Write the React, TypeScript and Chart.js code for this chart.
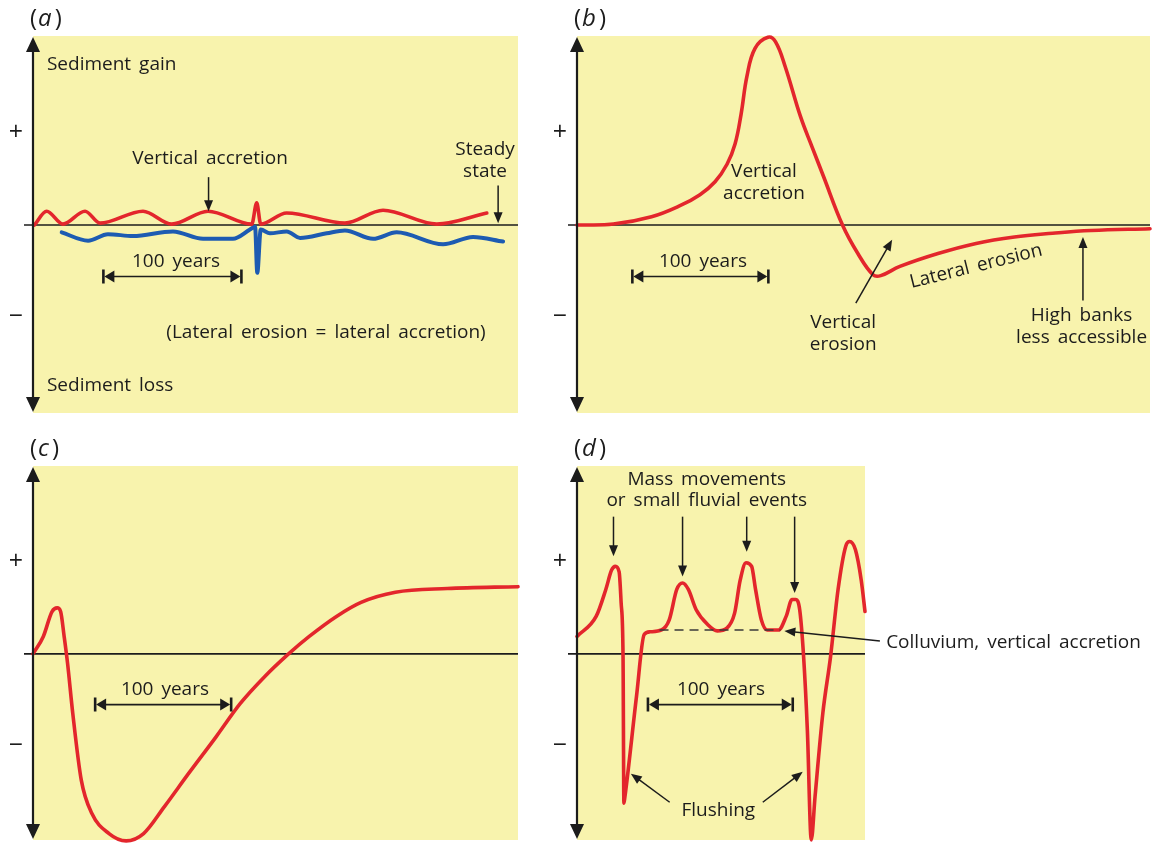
import React, { useEffect, useRef } from 'react';
import { Chart, registerables } from 'chart.js';

Chart.register(...registerables);

// ---------------- Data (x in years, y in relative sediment-budget units) ----------------
// Panel (a): steady state
const A_RED_YEARS = [1, 9.9, 21.7, 37.7, 48.6, 79.7, 100.5, 126.8, 158.5, 162.1, 165, 183.8, 226, 253.6, 292.5, 328.8];
const A_RED = [0.0, 0.15, 0.01, 0.15, 0.02, 0.15, 0.01, 0.15, 0.01, 0.24, 0.01, 0.13, 0.02, 0.16, 0.01, 0.13];
const A_BLUE_YEARS = [20.8, 39.9, 54.3, 72.5, 101.4, 123.2, 144.9, 157.2, 160.9, 162.5, 165, 171.7, 183.8, 193.5, 212.8, 226, 246.4, 263.5, 297.1, 318.8, 340.6];
const A_BLUE = [-0.08, -0.17, -0.1, -0.12, -0.07, -0.15, -0.15, -0.05, -0.02, -0.52, -0.05, -0.09, -0.07, -0.14, -0.09, -0.06, -0.15, -0.08, -0.21, -0.13, -0.18];

// Panel (b)
const B_YEARS = [0, 26.7, 54.8, 75.7, 90.4, 101.5, 110.3, 116.2, 120.6, 125, 130.9, 140.4, 146, 153.1, 164.3, 172.8, 181.2, 195.2, 206.5, 217.6, 223.3, 237.4, 265.4, 293.4, 321.6, 349.7, 377.8, 421.3];
const B_VALUES = [0, 0.01, 0.09, 0.21, 0.33, 0.47, 0.66, 0.88, 1.2, 1.62, 1.92, 2.04, 1.99, 1.72, 1.18, 0.85, 0.53, 0, -0.31, -0.54, -0.55, -0.45, -0.31, -0.2, -0.13, -0.09, -0.06, -0.04];

// Panel (c)
const C_YEARS = [0, 7.6, 14, 17.8, 20.3, 22.9, 25.4, 29.2, 35.5, 43.2, 55.9, 68.5, 81.3, 96.5, 114.3, 134.6, 152.3, 170.1, 187.9, 203.1, 223.4, 241.2, 266.5, 304.6, 356.6];
const C_VALUES = [0, 0.19, 0.46, 0.5, 0.46, 0.19, -0.1, -0.64, -1.37, -1.73, -1.95, -2.03, -1.95, -1.66, -1.3, -0.9, -0.54, -0.25, 0, 0.19, 0.41, 0.56, 0.67, 0.71, 0.73];

// Panel (d)
const D_YEARS = [0, 13.3, 19.9, 23.9, 26.5, 29.1, 30.5, 31.8, 32.4, 33.1, 41.1, 46.4, 50.4, 58.4, 63.7, 68.9, 72.9, 76.9, 82.3, 90.2, 96.8, 103.5, 108.8, 112.7, 116.7, 120.6, 123.3, 127.3, 131.3, 139.2, 144.5, 148.5, 151.2, 153.8, 156.5, 159.1, 161.8, 164.4, 169.8, 175.1, 180.3, 185.6, 188.3, 192.3, 196.3, 198.9];
const D_VALUES = [0.19, 0.41, 0.7, 0.91, 0.95, 0.89, 0.55, -0.03, -1.62, -1.55, -0.46, 0.21, 0.24, 0.26, 0.37, 0.7, 0.77, 0.7, 0.48, 0.32, 0.25, 0.28, 0.44, 0.8, 0.99, 0.95, 0.7, 0.37, 0.26, 0.26, 0.41, 0.59, 0.59, 0.48, -0.03, -0.83, -2.02, -1.55, -0.64, -0.03, 0.7, 1.17, 1.22, 1.13, 0.8, 0.46];
const D_COLLUVIUM_LEVEL = 0.26;

const AXIS_PLUS = '+';
const AXIS_MINUS = '\u2212';

// ---------------- Styles ----------------
const FONT = '"Open Sans", "Noto Sans", sans-serif';
const TEXT_SIZE = 19;
const INK = '#1c1c1c';
const RED = '#e3262c';
const BLUE = '#1d5bb2';
const YELLOW = '#f8f3ad';
const PAGE_W = 1158;
const PAGE_H = 844;

type Ann =
  | { kind: 'text'; x: number; y: number; text: string; align?: CanvasTextAlign; rotate?: number }
  | { kind: 'arrow'; x1: number; y1: number; x2: number; y2: number }
  | { kind: 'span'; x1: number; x2: number; y: number }
  | { kind: 'dash'; x1: number; x2: number; y: number };

interface Series { years: number[]; values: number[]; color: string; width: number; smooth?: 'monotone' | 'bezier' }
interface PanelCfg {
  letter: string;
  area: { left: number; top: number; right: number; bottom: number };
  xMax: number;
  yMin: number;
  yMax: number;
  series: Series[];
  anns: Ann[];
}

const PANELS: PanelCfg[] = [
  {
    letter: 'a',
    area: { left: 33, top: 36, right: 518, bottom: 413 },
    xMax: 351.4, yMin: -2.043, yMax: 2.054,
    series: [
      { years: A_RED_YEARS, values: A_RED, color: RED, width: 3.6 },
      { years: A_BLUE_YEARS, values: A_BLUE, color: BLUE, width: 4 },
    ],
    anns: [
      { kind: 'text', x: 10.1, y: 1.74, text: 'Sediment gain', align: 'left' },
      { kind: 'text', x: 10.1, y: -1.74, text: 'Sediment loss', align: 'left' },
      { kind: 'text', x: 128.3, y: 0.72, text: 'Vertical accretion' },
      { kind: 'arrow', x1: 127.2, y1: 0.52, x2: 127.2, y2: 0.15 },
      { kind: 'text', x: 327.5, y: 0.82, text: 'Steady' },
      { kind: 'text', x: 327.5, y: 0.58, text: 'state' },
      { kind: 'arrow', x1: 337, y1: 0.43, x2: 337, y2: 0.02 },
      { kind: 'text', x: 103.6, y: -0.4, text: '100 years' },
      { kind: 'span', x1: 51, x2: 151, y: -0.56 },
      { kind: 'text', x: 212.3, y: -1.17, text: '(Lateral erosion = lateral accretion)' },
    ],
  },
  {
    letter: 'b',
    area: { left: 577, top: 36, right: 1150, bottom: 413 },
    xMax: 421.3, yMin: -2.043, yMax: 2.054,
    series: [{ years: B_YEARS, values: B_VALUES, color: RED, width: 3.6, smooth: 'bezier' }],
    anns: [
      { kind: 'text', x: 137.5, y: 0.58, text: 'Vertical' },
      { kind: 'text', x: 137.5, y: 0.34, text: 'accretion' },
      { kind: 'text', x: 92.6, y: -0.4, text: '100 years' },
      { kind: 'span', x1: 40.7, x2: 140.7, y: -0.56 },
      { kind: 'text', x: 195.7, y: -1.06, text: 'Vertical' },
      { kind: 'text', x: 195.7, y: -1.3, text: 'erosion' },
      { kind: 'arrow', x1: 205, y1: -0.85, x2: 231.7, y2: -0.16 },
      { kind: 'text', x: 293.4, y: -0.45, text: 'Lateral erosion', rotate: -14 },
      { kind: 'text', x: 371, y: -0.98, text: 'High banks' },
      { kind: 'text', x: 371, y: -1.22, text: 'less accessible' },
      { kind: 'arrow', x1: 372, y1: -0.82, x2: 372, y2: -0.13 },
    ],
  },
  {
    letter: 'c',
    area: { left: 33, top: 466, right: 518, bottom: 840 },
    xMax: 356.6, yMin: -2.02, yMax: 2.04,
    series: [{ years: C_YEARS, values: C_VALUES, color: RED, width: 3.6 }],
    anns: [
      { kind: 'text', x: 97, y: -0.39, text: '100 years' },
      { kind: 'span', x1: 45.7, x2: 145.7, y: -0.55 },
    ],
  },
  {
    letter: 'd',
    area: { left: 577, top: 466, right: 865, bottom: 840 },
    xMax: 198.9, yMin: -2.02, yMax: 2.04,
    series: [{ years: D_YEARS, values: D_VALUES, color: RED, width: 3.6 }],
    anns: [
      { kind: 'text', x: 89.6, y: 1.89, text: 'Mass movements' },
      { kind: 'text', x: 89.6, y: 1.66, text: 'or small fluvial events' },
      { kind: 'arrow', x1: 25.2, y1: 1.49, x2: 25.2, y2: 1.06 },
      { kind: 'arrow', x1: 72.9, y1: 1.49, x2: 72.9, y2: 0.84 },
      { kind: 'arrow', x1: 117.2, y1: 1.49, x2: 117.2, y2: 1.11 },
      { kind: 'arrow', x1: 150.3, y1: 1.49, x2: 150.3, y2: 0.66 },
      { kind: 'dash', x1: 57, x2: 140.5, y: D_COLLUVIUM_LEVEL },
      { kind: 'text', x: 213.5, y: 0.12, text: 'Colluvium, vertical accretion', align: 'left' },
      { kind: 'arrow', x1: 209.2, y1: 0.14, x2: 143.2, y2: 0.25 },
      { kind: 'text', x: 99.4, y: -0.39, text: '100 years' },
      { kind: 'span', x1: 49, x2: 149, y: -0.55 },
      { kind: 'text', x: 97.6, y: -1.7, text: 'Flushing' },
      { kind: 'arrow', x1: 64, y1: -1.61, x2: 37.2, y2: -1.3 },
      { kind: 'arrow', x1: 128.3, y1: -1.61, x2: 155.9, y2: -1.28 },
    ],
  },
];

function head(ctx: CanvasRenderingContext2D, tx: number, ty: number, dx: number, dy: number, len: number, hw: number) {
  const n = Math.hypot(dx, dy) || 1;
  const ux = dx / n, uy = dy / n;
  const bx = tx - ux * len, by = ty - uy * len;
  ctx.beginPath();
  ctx.moveTo(tx, ty);
  ctx.lineTo(bx - uy * hw, by + ux * hw);
  ctx.lineTo(bx + uy * hw, by - ux * hw);
  ctx.closePath();
  ctx.fill();
}

function makeDecor(cfg: PanelCfg) {
  return {
    id: 'decor_' + cfg.letter,
    beforeDraw(chart: any) {
      const { ctx, chartArea: ca, scales } = chart;
      ctx.save();
      ctx.fillStyle = YELLOW;
      ctx.fillRect(ca.left, ca.top, ca.right - ca.left, ca.bottom - ca.top);
      const y0 = scales.y.getPixelForValue(0);
      ctx.strokeStyle = INK;
      ctx.lineWidth = 1.6;
      ctx.beginPath();
      ctx.moveTo(ca.left - 9, y0);
      ctx.lineTo(ca.right, y0);
      ctx.stroke();
      ctx.restore();
    },
    afterDatasetsDraw(chart: any) {
      const { ctx, chartArea: ca, scales } = chart;
      const X = (v: number) => scales.x.getPixelForValue(v);
      const Y = (v: number) => scales.y.getPixelForValue(v);
      ctx.save();
      ctx.strokeStyle = INK;
      ctx.fillStyle = INK;
      // vertical axis with arrowheads
      const ax = ca.left;
      ctx.lineWidth = 2.2;
      ctx.beginPath();
      ctx.moveTo(ax, ca.top + 10);
      ctx.lineTo(ax, ca.bottom - 10);
      ctx.stroke();
      head(ctx, ax, ca.top + 1, 0, -1, 15, 7);
      head(ctx, ax, ca.bottom - 1, 0, 1, 15, 7);

      // + and − marks
      ctx.font = `25px ${FONT}`;
      ctx.textAlign = 'center';
      ctx.textBaseline = 'middle';
      ctx.fillText(AXIS_PLUS, ax - 17, Y(1));
      ctx.fillText(AXIS_MINUS, ax - 17, Y(-1));

      // panel letter "(x)"
      ctx.textAlign = 'left';
      ctx.textBaseline = 'middle';
      const ly = ca.top - 17;
      let lx = ax - 3;
      ctx.font = `24px ${FONT}`;
      ctx.fillText('(', lx, ly);
      lx += ctx.measureText('(').width + 1;
      ctx.font = `italic 24px ${FONT}`;
      ctx.fillText(cfg.letter, lx, ly);
      lx += ctx.measureText(cfg.letter).width + 3;
      ctx.font = `24px ${FONT}`;
      ctx.fillText(')', lx, ly);

      for (const a of cfg.anns) {
        if (a.kind === 'text') {
          ctx.font = `${TEXT_SIZE}px ${FONT}`;
          (ctx as any).wordSpacing = '3px';
          ctx.textAlign = a.align || 'center';
          ctx.textBaseline = 'middle';
          if (a.rotate) {
            ctx.save();
            ctx.translate(X(a.x), Y(a.y));
            ctx.rotate((a.rotate * Math.PI) / 180);
            ctx.fillText(a.text, 0, 0);
            ctx.restore();
          } else {
            ctx.fillText(a.text, X(a.x), Y(a.y));
          }
          (ctx as any).wordSpacing = '0px';
        } else if (a.kind === 'arrow') {
          const x1 = X(a.x1), y1 = Y(a.y1), x2 = X(a.x2), y2 = Y(a.y2);
          const n = Math.hypot(x2 - x1, y2 - y1);
          const ux = (x2 - x1) / n, uy = (y2 - y1) / n;
          ctx.lineWidth = 1.5;
          ctx.beginPath();
          ctx.moveTo(x1, y1);
          ctx.lineTo(x2 - ux * 8, y2 - uy * 8);
          ctx.stroke();
          head(ctx, x2, y2, ux, uy, 11, 4.5);
        } else if (a.kind === 'span') {
          const x1 = X(a.x1), x2 = X(a.x2), y = Y(a.y);
          ctx.lineWidth = 1.6;
          ctx.beginPath();
          ctx.moveTo(x1 + 8, y);
          ctx.lineTo(x2 - 8, y);
          ctx.stroke();
          ctx.lineWidth = 2.6;
          ctx.beginPath();
          ctx.moveTo(x1, y - 7);
          ctx.lineTo(x1, y + 7);
          ctx.moveTo(x2, y - 7);
          ctx.lineTo(x2, y + 7);
          ctx.stroke();
          head(ctx, x1 + 1, y, -1, 0, 10, 6);
          head(ctx, x2 - 1, y, 1, 0, 10, 6);
        } else if (a.kind === 'dash') {
          ctx.save();
          ctx.strokeStyle = '#3a3a3a';
          ctx.lineWidth = 1.6;
          ctx.setLineDash([9, 6]);
          ctx.beginPath();
          ctx.moveTo(X(a.x1), Y(a.y));
          ctx.lineTo(X(a.x2), Y(a.y));
          ctx.stroke();
          ctx.restore();
        }
      }
      ctx.restore();
    },
  };
}

function Panel({ cfg }: { cfg: PanelCfg }) {
  const ref = useRef<HTMLCanvasElement>(null);
  useEffect(() => {
    const canvas = ref.current;
    if (!canvas) return;
    const chart = new Chart(canvas, {
      type: 'line',
      data: {
        datasets: cfg.series.map((s) => ({
          data: s.years.map((yr, i) => ({ x: yr, y: s.values[i] })),
          borderColor: s.color,
          borderWidth: s.width,
          pointRadius: 0,
          fill: false,
          cubicInterpolationMode: (s.smooth === 'bezier' ? 'default' : 'monotone') as any,
          tension: 0.4,
          clip: false as any,
          borderCapStyle: 'round' as const,
          borderJoinStyle: 'round' as const,
        })),
      },
      options: {
        responsive: false,
        animation: false,
        events: [],
        layout: {
          padding: {
            left: cfg.area.left,
            top: cfg.area.top,
            right: PAGE_W - cfg.area.right,
            bottom: PAGE_H - cfg.area.bottom,
          },
        },
        scales: {
          x: { type: 'linear', min: 0, max: cfg.xMax, display: false },
          y: { type: 'linear', min: cfg.yMin, max: cfg.yMax, display: false },
        },
        plugins: { legend: { display: false }, tooltip: { enabled: false } },
      },
      plugins: [makeDecor(cfg)],
    });
    return () => chart.destroy();
  }, [cfg]);
  return (
    <canvas
      ref={ref}
      width={PAGE_W}
      height={PAGE_H}
      style={{ position: 'absolute', left: 0, top: 0, width: PAGE_W, height: PAGE_H }}
    />
  );
}

export default function App() {
  return (
    <div style={{ position: 'absolute', left: 0, top: 0, width: PAGE_W, height: PAGE_H, background: '#ffffff', overflow: 'hidden' }}>
      {PANELS.map((p) => (
        <Panel key={p.letter} cfg={p} />
      ))}
    </div>
  );
}
